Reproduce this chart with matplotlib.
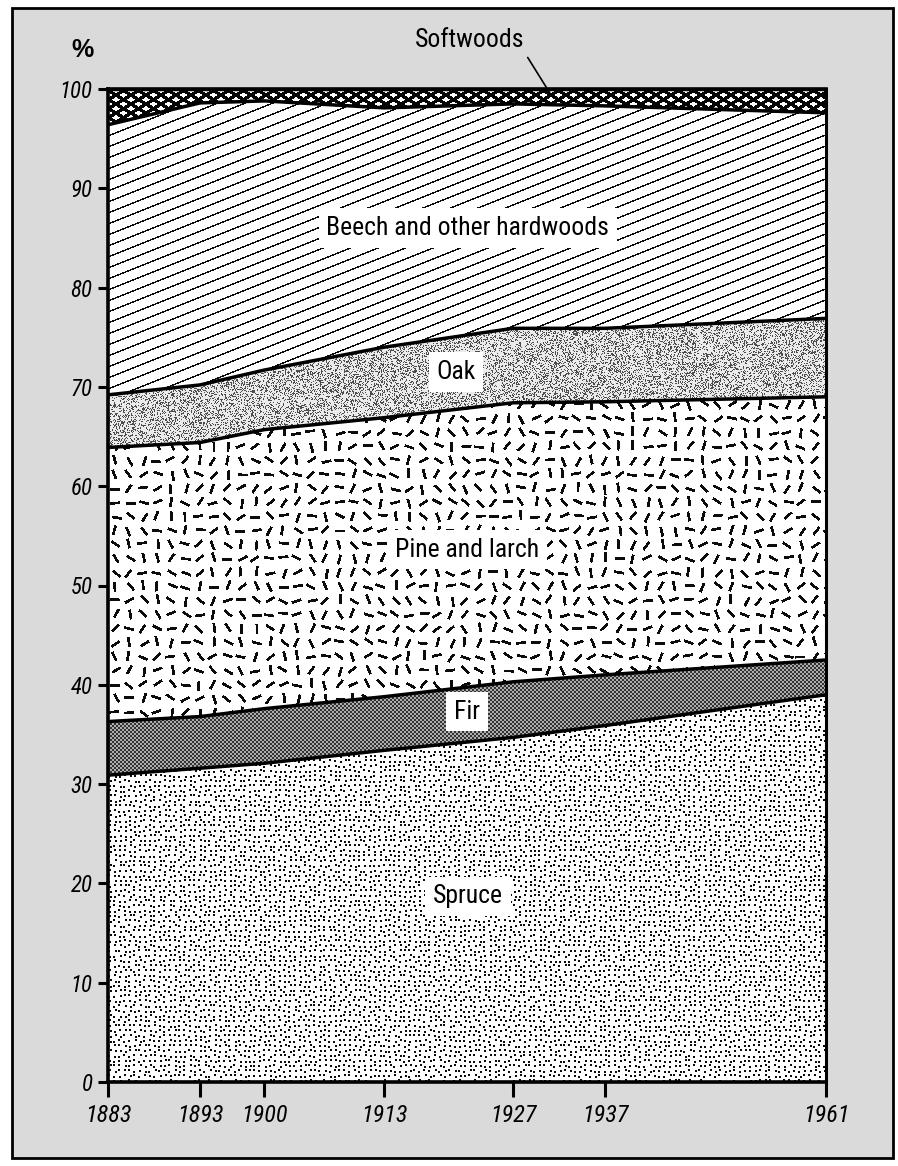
import numpy as np
import matplotlib
matplotlib.use('Agg')
import matplotlib.pyplot as plt
from matplotlib.patches import Rectangle, Polygon
from matplotlib import font_manager as fm

# ---------------- data ----------------
years = [1883, 1893, 1900, 1913, 1927, 1937, 1961]
year_labels = ['1883', '1893', '1900', '1913', '1927', '1937', '1961']
y_ticks = [0, 10, 20, 30, 40, 50, 60, 70, 80, 90, 100]
categories = ['Spruce', 'Fir', 'Pine and larch', 'Oak',
              'Beech and other hardwoods', 'Softwoods']
spruce = [30.9, 31.6, 32.1, 33.4, 34.7, 35.9, 39.0]
fir = [5.4, 5.2, 5.5, 5.4, 5.6, 5.1, 3.5]
pine = [27.6, 27.6, 28.1, 28.1, 28.1, 27.5, 26.5]
oak = [5.3, 5.8, 6.0, 7.1, 7.5, 7.4, 7.9]
beech = [27.2, 28.4, 27.1, 24.1, 22.6, 22.4, 20.7]
softwoods = [3.6, 1.4, 1.2, 1.9, 1.5, 1.7, 2.4]
series = [spruce, fir, pine, oak, beech, softwoods]

installed = {f.name for f in fm.fontManager.ttflist}
narrow = next((n for n in ['Liberation Sans Narrow', 'Roboto Condensed', 'Archivo Narrow',
                           'Barlow Semi Condensed', 'Liberation Sans'] if n in installed),
              'DejaVu Sans')
FONT_N = [narrow, 'DejaVu Sans']

W_IN, H_IN, DPI = 8.98, 11.66, 100
fig = plt.figure(figsize=(W_IN, H_IN), dpi=DPI)
fig.patch.set_facecolor('white')
fig.add_artist(Rectangle((12 / 898, 1 - 1158 / 1166), (893 - 12) / 898, (1158 - 8) / 1166,
                         transform=fig.transFigure, facecolor='#dadada',
                         edgecolor='black', linewidth=2.0, zorder=0))

left, right, bottom, top = 108, 826, 1082, 89
ax = fig.add_axes([left / 898, 1 - bottom / 1166, (right - left) / 898, (bottom - top) / 1166])
ax.set_facecolor('white')
ax.set_xlim(years[0], years[-1])
ax.set_ylim(0, 100)

# ---------------- textures (pixel-space) ----------------
Wp, Hp = right - left, bottom - top
jj, ii = np.meshgrid(np.arange(Wp), np.arange(Hp))
yb = Hp - ii
MASK = np.uint64(0xFFFFFFFF)


def hsh(a, b, s):
    a = np.asarray(a).astype(np.uint64)
    b = np.asarray(b).astype(np.uint64)
    v = (a * np.uint64(0x9E3779B1) + b * np.uint64(0x85EBCA77) + np.uint64(s * 0xC2B2AE3D)) & MASK
    v ^= v >> np.uint64(15)
    v = (v * np.uint64(0x2C1B3C6D)) & MASK
    v ^= v >> np.uint64(12)
    v = (v * np.uint64(0x297A2D39)) & MASK
    v ^= v >> np.uint64(15)
    return v.astype(float) / 4294967296.0


def tex_spruce():
    c = 5
    ci, ri = jj // c, ii // c
    ox = np.floor(hsh(ci, ri, 1) * 3)
    oy = np.floor(hsh(ci, ri, 2) * 3)
    lx, ly = jj % c - ox, ii % c - oy
    dot = (lx >= 0) & (lx < 2) & (ly >= 0) & (ly < 2)
    return np.where(dot, 0.05, 1.0)


def tex_fir():
    chk = ((ii // 2 + jj // 2) % 2) == 0
    return np.where(chk, 0.2, 0.68)


def tex_pine():
    c = 14
    ci, ri = jj // c, ii // c
    cx = ci * c + 7 + (hsh(ci, ri, 3) - 0.5) * 3
    cy = ri * c + 7 + (hsh(ci, ri, 4) - 0.5) * 3
    th = hsh(ci, ri, 5) * np.pi
    dx, dy = jj - cx, ii - cy
    along = dx * np.cos(th) + dy * np.sin(th)
    across = -dx * np.sin(th) + dy * np.cos(th)
    dash = (np.abs(along) < 5.0) & (np.abs(across) < 1.4)
    return np.where(dash, 0.05, 1.0)


def tex_oak():
    n = hsh(jj, ii, 6)
    return np.where(n < 0.3, 0.3, 0.92)


def tex_beech():
    d = np.mod(yb - 0.40 * jj, 11.0)
    return np.where(d < 1.5, 0.05, 1.0)


def tex_soft():
    d1 = np.mod(yb - 0.6 * jj, 9.0)
    d2 = np.mod(yb + 0.6 * jj, 9.0)
    return np.where((d1 < 3.8) | (d2 < 3.8), 0.02, 1.0)


textures = [tex_spruce(), tex_fir(), tex_pine(), tex_oak(), tex_beech(), tex_soft()]

cum = np.cumsum(np.array(series, dtype=float), axis=0)
x = np.array(years, dtype=float)
lower = np.zeros_like(x)
for k, (name, tex) in enumerate(zip(categories, textures)):
    upper = cum[k]
    verts = np.column_stack([np.concatenate([x, x[::-1]]),
                             np.concatenate([upper, lower[::-1]])])
    poly = Polygon(verts, closed=True, facecolor='none', edgecolor='none',
                   transform=ax.transData)
    ax.add_patch(poly)
    im = ax.imshow(tex, cmap='gray', vmin=0, vmax=1, extent=(years[0], years[-1], 0, 100),
                   origin='upper', aspect='auto', interpolation='nearest', zorder=1)
    im.set_clip_path(poly)
    ax.plot(x, upper, color='black', linewidth=2.5, zorder=3, solid_capstyle='butt')
    lower = upper

# ---------------- axes styling ----------------
for s in ['left', 'bottom', 'top']:
    ax.spines[s].set_linewidth(2.6)
ax.spines['right'].set_linewidth(2.2)
for s in ax.spines.values():
    s.set_zorder(4)

ax.set_yticks(y_ticks)
ax.set_yticklabels([str(v) for v in y_ticks])
ax.set_xticks(years)
ax.set_xticklabels(year_labels)
ax.tick_params(axis='y', direction='out', length=7, width=2.2, pad=4)
ax.tick_params(axis='x', direction='out', length=11, width=2.2, pad=5)
for lab in ax.get_yticklabels():
    lab.set_fontfamily(FONT_N)
    lab.set_fontstyle('italic')
    lab.set_fontsize(16.5)
for lab in ax.get_xticklabels():
    lab.set_fontfamily(FONT_N)
    lab.set_fontstyle('italic')
    lab.set_fontsize(17.5)

ax.text(-0.035, 1.039, '%', transform=ax.transAxes, ha='center', va='center',
        fontsize=18, fontweight='bold', family=['Liberation Sans', 'DejaVu Sans'])

# ---------------- labels ----------------
box = dict(boxstyle='square,pad=0.3', facecolor='white', edgecolor='none')
label_pos = {
    'Beech and other hardwoods': (1922.1, 86.0),
    'Oak': (1920.8, 71.5),
    'Pine and larch': (1922.0, 53.6),
    'Fir': (1922.0, 37.3),
    'Spruce': (1922.1, 18.7),
}
for name, (lx, ly) in label_pos.items():
    ax.text(lx, ly, name, ha='center', va='center', fontsize=18.5, family=FONT_N,
            bbox=box, zorder=5)

ax.annotate('Softwoods', xy=(1931.2, 99.3), xytext=(1922.3, 104.9),
            ha='center', va='center', fontsize=18.5, family=FONT_N,
            annotation_clip=False,
            arrowprops=dict(arrowstyle='-', color='black', linewidth=1.2,
                            shrinkA=2, shrinkB=0, relpos=(1.0, 0.0)))

fig.savefig('out.png', dpi=DPI)
